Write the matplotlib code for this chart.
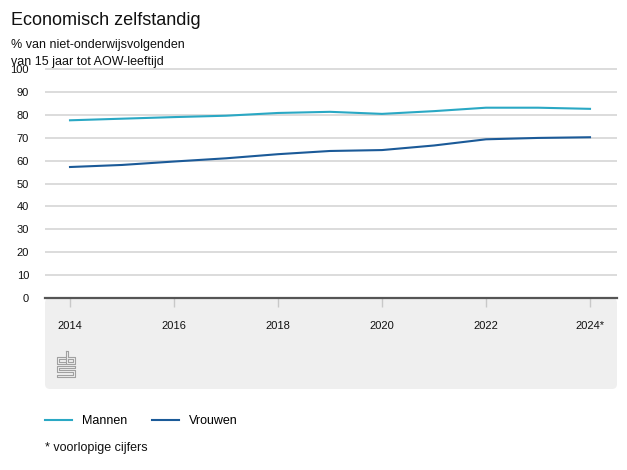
import matplotlib
matplotlib.use('Agg')
import matplotlib.pyplot as plt
from matplotlib.patches import FancyBboxPatch
from matplotlib.lines import Line2D
import matplotlib.transforms as mtransforms

plt.rcParams['font.family'] = ['Liberation Sans', 'DejaVu Sans']

# Data
years = [2014, 2015, 2016, 2017, 2018, 2019, 2020, 2021, 2022, 2023, 2024]
mannen = [77.6, 78.3, 79.0, 79.6, 80.8, 81.3, 80.4, 81.6, 83.1, 83.1, 82.6]
vrouwen = [57.2, 58.1, 59.6, 61.0, 62.8, 64.2, 64.6, 66.6, 69.3, 69.9, 70.2]
xticks = [2014, 2016, 2018, 2020, 2022, 2024]
xticklabels = ['2014', '2016', '2018', '2020', '2022', '2024*']
yticks = [0, 10, 20, 30, 40, 50, 60, 70, 80, 90, 100]

W, H = 627, 470
fig = plt.figure(figsize=(W / 100, H / 100), dpi=100)


def fx(x):
    return x / W


def fy(y):
    return 1 - y / H


# Gray panel under the x axis (pixel coordinates)
bg = FancyBboxPatch((45, H - 389), 572, 91, boxstyle='round,pad=0,rounding_size=5',
                    facecolor='#efefef', edgecolor='none',
                    transform=mtransforms.IdentityTransform(), zorder=-5)
fig.add_artist(bg)

# Main axes
top_px = 298 - 229 * 1.01
ax = fig.add_axes([fx(45), fy(298), 572 / W, (298 - top_px) / H])
ax.set_zorder(2)
ax.patch.set_visible(False)
ax.plot(years, mannen, color='#2aa8c4', lw=1.5, label='Mannen', zorder=3)
ax.plot(years, vrouwen, color='#1b5a98', lw=1.5, label='Vrouwen', zorder=3)

ax.set_xlim(2014 - 25 / 52, 2024 + 27 / 52)
ax.set_ylim(0, 101)
ax.set_yticks(yticks)
ax.set_xticks(xticks)
ax.set_xticklabels(xticklabels)
ax.grid(axis='y', color='#dcdcdc', lw=1.4)
ax.set_axisbelow(True)
for s in ['top', 'right', 'left']:
    ax.spines[s].set_visible(False)
ax.spines['bottom'].set_color('#555555')
ax.spines['bottom'].set_linewidth(1.6)
ax.spines['bottom'].set_zorder(4)
ax.tick_params(axis='y', length=0, pad=11.5, labelsize=8, labelcolor='#111111')
ax.tick_params(axis='x', length=6.5, width=1, color='#c8c8c8', pad=10,
               labelsize=8, labelcolor='#111111')

# Titles
fig.text(fx(11), fy(25), 'Economisch zelfstandig', fontsize=13, color='#111111', va='baseline')
fig.text(fx(11), fy(48), '% van niet-onderwijsvolgenden', fontsize=9, color='#111111', va='baseline')
fig.text(fx(11), fy(65), 'van 15 jaar tot AOW-leeftijd', fontsize=9, color='#111111', va='baseline')

# CBS logo (approximation)
logo_c = '#a0a0a0'
segs = [
    # c
    [(65, 357), (57, 357), (57, 364), (65, 364)],
    [(65, 359), (59, 359), (59, 362), (65, 362)],
    # b
    [(66, 351), (66, 364), (75, 364), (75, 357), (68, 357), (68, 351), (66, 351)],
    [(68, 359), (73, 359), (73, 362), (68, 362), (68, 359)],
    # s
    [(75, 366), (57, 366), (57, 372), (73, 372), (73, 375), (57, 375), (57, 377),
     (75, 377), (75, 370), (59, 370), (59, 368), (75, 368), (75, 366)],
]
for seg in segs:
    xs = [fx(p[0]) for p in seg]
    ys = [fy(p[1]) for p in seg]
    fig.add_artist(Line2D(xs, ys, color=logo_c, lw=0.8, transform=fig.transFigure))

# Legend
fig.legend(loc='center left', bbox_to_anchor=(fx(45), fy(421)), ncol=2, frameon=False,
           fontsize=9, handlelength=2.15, handletextpad=0.8, columnspacing=2.0,
           borderpad=0, borderaxespad=0)
fig.text(fx(45), fy(448), '* voorlopige cijfers', fontsize=9, color='#111111', va='center')

fig.savefig('out.png', dpi=100)
